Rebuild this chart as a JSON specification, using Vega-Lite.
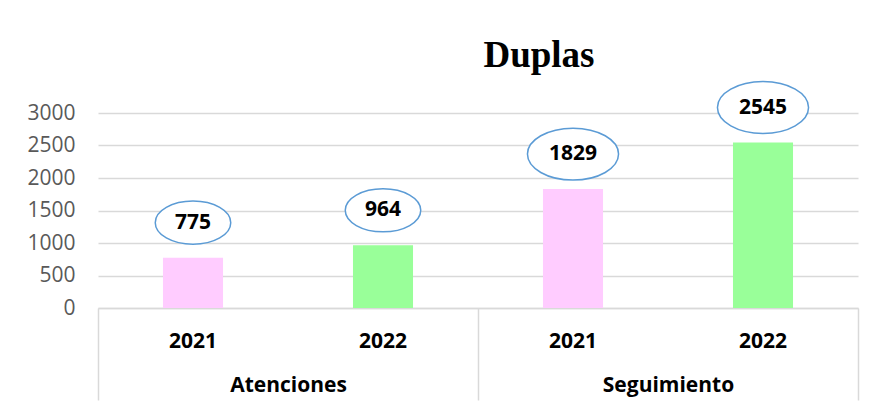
{
  "$schema": "https://vega.github.io/schema/vega-lite/v6.json",
  "autosize": "none",
  "width": 760,
  "height": 195,
  "padding": {"left": 98, "top": 113, "right": 14, "bottom": 99},
  "background": "white",
  "config": {"view": {"stroke": null}, "font": "Open Sans"},
  "title": {
    "text": "Duplas",
    "font": "Liberation Serif",
    "fontSize": 37,
    "fontWeight": "bold",
    "color": "black",
    "anchor": "middle",
    "dx": 61,
    "offset": 4
  },
  "data": {
    "values": [
      {"group": "Atenciones", "year": "2021", "key": "Atenciones 2021", "value": 775},
      {"group": "Atenciones", "year": "2022", "key": "Atenciones 2022", "value": 964},
      {"group": "Seguimiento", "year": "2021", "key": "Seguimiento 2021", "value": 1829},
      {"group": "Seguimiento", "year": "2022", "key": "Seguimiento 2022", "value": 2545}
    ]
  },
  "layer": [
    {
      "encoding": {
        "x": {
          "field": "key",
          "type": "nominal",
          "sort": null,
          "scale": {"paddingInner": 0.684, "paddingOuter": 0.342},
          "axis": {
            "orient": "bottom",
            "title": null,
            "labelExpr": "split(datum.label, ' ')[1]",
            "labelAngle": 0,
            "labelFont": "Open Sans",
            "labelFontSize": 21,
            "labelFontWeight": "bold",
            "labelColor": "black",
            "labelPadding": 22,
            "ticks": false,
            "domain": true,
            "domainColor": "#D9D9D9",
            "domainWidth": 1.5
          }
        },
        "y": {
          "field": "value",
          "type": "quantitative",
          "scale": {"domain": [0, 3000]},
          "axis": {
            "title": null,
            "values": [0, 500, 1000, 1500, 2000, 2500, 3000],
            "format": "d",
            "labelFont": "Open Sans",
            "labelFontSize": 21,
            "labelColor": "#595959",
            "labelPadding": 23,
            "ticks": false,
            "domain": false,
            "gridColor": "#D9D9D9",
            "gridWidth": 1.5
          }
        }
      },
      "layer": [
        {
          "mark": {"type": "bar"},
          "encoding": {
            "color": {
              "field": "year",
              "type": "nominal",
              "scale": {"domain": ["2021", "2022"], "range": ["#FFCCFF", "#99FF99"]},
              "legend": null
            }
          }
        },
        {
          "mark": {
            "type": "point",
            "shape": "M-1,0A1,0.57,0,1,1,1,0A1,0.57,0,1,1,-1,0Z",
            "filled": false,
            "fill": "white",
            "fillOpacity": 1,
            "stroke": "#5B9BD5",
            "strokeWidth": 1.5,
            "opacity": 1,
            "yOffset": -35
          },
          "encoding": {
            "size": {
              "field": "value",
              "type": "quantitative",
              "scale": {"type": "threshold", "domain": [1000], "range": [5700, 8300]},
              "legend": null
            }
          }
        },
        {
          "mark": {
            "type": "text",
            "font": "Open Sans",
            "fontSize": 21,
            "fontWeight": "bold",
            "color": "black",
            "baseline": "middle",
            "yOffset": -35
          },
          "encoding": {"text": {"field": "value", "type": "quantitative", "format": "d"}}
        }
      ]
    },
    {
      "mark": {"type": "text", "opacity": 0},
      "encoding": {
        "x": {
          "field": "group",
          "type": "nominal",
          "scale": {"paddingInner": 0, "paddingOuter": 0},
          "axis": {
            "orient": "bottom",
            "title": null,
            "labelAngle": 0,
            "labelFont": "Open Sans",
            "labelFontSize": 21,
            "labelFontWeight": "bold",
            "labelColor": "black",
            "ticks": true,
            "tickBand": "extent",
            "tickSize": 92,
            "tickColor": "#D9D9D9",
            "tickWidth": 1.5,
            "labelPadding": -26,
            "domain": false,
            "grid": false
          }
        },
        "text": {"value": ""}
      }
    }
  ],
  "resolve": {"scale": {"x": "independent"}, "axis": {"x": "independent"}}
}
